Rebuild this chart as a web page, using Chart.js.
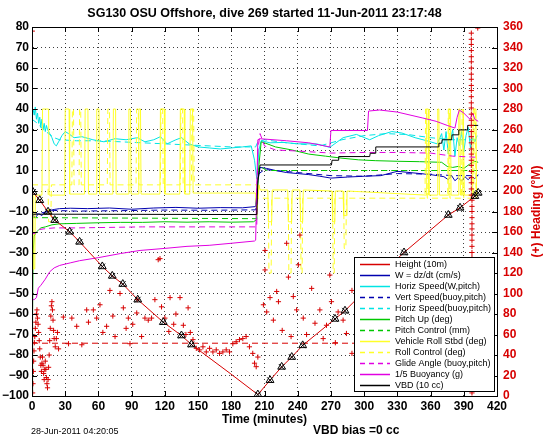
<!DOCTYPE html>
<html>
<head>
<meta charset="utf-8">
<script src="https://cdn.jsdelivr.net/npm/chart.js@4.4.1/dist/chart.umd.min.js"></script>
<style>
  html, body { margin: 0; padding: 0; background: #fff; }
  #wrap { width: 546px; height: 442px; }
</style>
</head>
<body>
<div id="wrap"><canvas id="c" width="546" height="442"></canvas></div>
<script>
// ---- data (time in minutes) ----
const xTicks = [0, 420, 30];      // min, max, step
const yLeftTicks = [-100, 80, 10];
const yRightTicks = [0, 360, 20];

const heightT = [0, 7, 14.5, 20.5, 34, 43, 63.5, 72.5, 82, 95.5, 118.6, 135, 144, 179, 204, 215, 225.5, 234.6, 244.5, 273.7, 282.7, 326, 336, 376, 386.6, 400, 403];
const heightV = [0, -4.5, -10.1, -14.2, -19.9, -24.8, -36.8, -41.4, -45.4, -53, -64, -70.5, -74.9, -89, -99.3, -92.3, -85.8, -81, -75.3, -62.4, -58.4, -35, -30, -11.7, -8.2, -2.5, -0.9];

const markT = [0.9, 7, 14.5, 20.5, 34, 43, 63.5, 72.5, 82, 95.5, 118.6, 135, 144, 204, 215, 225.5, 234.6, 244.5, 273.7, 282.7, 326, 336, 376, 386.6, 400, 403];
const markV = [-0.5, -4.5, -10.1, -14.2, -19.9, -24.8, -36.8, -41.4, -45.4, -53, -64, -70.5, -74.9, -99.3, -92.3, -85.8, -81, -75.3, -62.4, -58.4, -35, -30, -11.7, -8.2, -2.5, -0.9];

const wT = [0, 1, 3, 6, 9, 12, 16, 20, 25, 35, 50, 70, 90, 110, 130, 150, 170, 190, 202, 203.5, 206, 212, 220, 230, 240, 250, 260, 270, 285, 300, 315, 330, 345, 360, 372, 376, 379, 382, 385, 388, 391, 394, 397, 400, 403];
const wV = [-14, -12, -13, -11, -12, -10, -9.5, -9, -8.6, -8.4, -8.6, -8.3, -8.9, -8.3, -8.0, -8.4, -8.1, -8.2, -7.6, 3, 11.5, 11, 10, 9, 8.5, 8, 7.2, 6.3, 6.8, 7.2, 7.5, 9.6, 8.8, 8.0, 7, 5.5, 7.5, 5, 6.5, 4.8, 7, 5.5, 7.2, 6, 8];

const horizT = [0, 1, 2, 3, 4, 5, 6, 7, 8, 9, 10, 11, 12, 13, 14, 16, 18, 20, 22, 24, 27, 30, 33, 38, 45, 55, 65, 75, 85, 95, 102, 110, 116, 122, 130, 135, 142, 150, 160, 170, 180, 190, 198, 201, 203, 205, 207, 215, 227, 240, 257, 269, 281, 293, 305, 313, 325, 334, 346, 358, 366, 370, 372, 374, 376, 378, 380, 382, 384, 386, 388, 390, 392, 394, 396, 398, 400, 402];
const horizV = [38, 40, 37, 41, 35, 38, 33, 36, 31, 35, 30, 33, 29, 32, 30, 28, 26, 23, 22, 24, 27, 29, 28, 26, 26.5, 25, 24, 25.5, 25, 26, 24, 25, 26.5, 23, 25, 26, 23, 21.5, 21, 20.5, 21, 21.5, 22, 15, 6, 20, 24.5, 23.5, 23.7, 23, 23, 21.3, 26, 27.6, 25, 27, 29, 28.3, 26, 24.3, 23, 28, 20, 29, 18, 25, 30, 17, 26, 22, 29, 19, 27, 31, 21, 26, 24, 27];

const vertT = [0, 5, 10, 20, 40, 80, 120, 160, 202, 204, 210, 240, 270, 300, 330, 360, 380, 403];
const vertV = [-12, -11, -10.5, -9.5, -9.8, -9.6, -9.3, -9.4, -9.2, 8, 10.5, 9, 7.5, 7.2, 8.5, 8.2, 7.5, 7.5];

const horizBT = [0, 5, 10, 20, 25, 40, 60, 80, 100, 120, 140, 160, 180, 202, 204, 210, 230, 260, 280, 300, 320, 340, 360, 380, 403];
const horizBV = [35, 33, 30, 26, 25, 24.5, 24.5, 24, 23.5, 23, 22.5, 22, 21.5, 21.5, 24, 25, 23.5, 22, 25, 27, 28, 27.5, 26, 25, 25];

const pitchT = [0, 0.5, 1, 2, 4, 6, 8, 12, 18, 25, 40, 60, 80, 100, 120, 140, 160, 180, 200, 203, 204.5, 207, 210, 220, 235, 250, 265, 280, 295, 310, 330, 350, 370, 375, 380, 385, 390, 395, 400, 403];
const pitchV = [-99, -60, -30, -22, -20, -19, -18, -17.5, -16.5, -16, -15.8, -15.5, -15.3, -15.3, -15, -15.2, -15, -15.2, -15, -14, 10, 24, 23.5, 21.5, 20, 18, 17, 16, 15.2, 14.8, 14.5, 14.3, 14, 12, 11.5, 12, 11, 13, 14.5, 14];

const pitchCtlT = [0, 203, 204, 206, 212, 403];
const pitchCtlV = [-13, -13.5, 10, 12, 10, 10];

const rollT = [0, 0.8, 2.5, 3, 9, 9.5, 15, 15.5, 29.5, 30, 33.5, 34, 47.5, 48, 50.5, 51, 58, 58.5, 60.5, 61, 73, 73.5, 75.5, 76, 87, 87.5, 89, 89.5, 96, 96.5, 98, 98.5, 115.5, 116, 119.5, 120, 133.5, 134, 137.5, 138, 142.5, 143, 145, 145.5, 202, 203, 205, 206, 213, 213.5, 216.5, 217, 231, 231.5, 234.5, 235, 242, 242.5, 244.5, 245, 271, 271.5, 273.5, 274, 281, 281.5, 284, 284.5, 356, 356.5, 358, 358.5, 366, 366.5, 367.5, 368, 376, 376.5, 378, 378.5, 385, 385.5, 386.5, 387, 389, 389.5, 390, 390.5, 398, 398.5, 401, 401.5, 403];
const rollV = [-2, -38, -38, -2, -2, 40, 40, -2, -2, 40, 40, -1.5, -1.5, 40, 40, -1.5, -1.5, 40, 40, -1.5, -1.5, 40, 40, -1.5, -1.5, 40, 40, -1.5, -1.5, 40, 40, -1.5, -1.5, 40, 40, -1.5, -1.5, 40, 40, -1.5, -1.5, 40, 40, -1, -1, -12, 3, 0.5, 0.5, -15, -15, 0.5, 0.5, -15, -15, 0.5, 0.5, -15, -15, 0.5, 0, -15, -15, 0, 0, -12, -12, 0, -2, 40, 40, -2, -2, 40, 40, -2, -2, 40, 40, -2, -2, 40, 40, -2, -2, 40, 40, -2, -2, 40, 40, -2, -2];

const rollCtlT = [0, 14.5, 15, 17, 17.5, 36, 36.5, 37.5, 38, 42.5, 43, 44, 44.5, 68, 68.5, 70, 70.5, 94, 94.5, 96, 96.5, 116, 116.5, 118, 118.5, 134, 134.5, 136, 136.5, 144, 144.5, 146, 146.5, 203, 204, 213.5, 214, 216, 216.5, 231.5, 232, 234, 234.5, 242.5, 243, 244, 244.5, 271.5, 272, 273, 273.5, 281.5, 282, 283.5, 284, 355, 355.5, 356.5, 357, 375.5, 376, 377, 377.5, 388, 388.5, 389.5, 390, 399, 399.5, 400.5, 401, 403];
const rollCtlV = [3, 3, -15, -15, 3, 3, 40, 40, 3, 3, 40, 40, 3, 3, 40, 40, 3, 3, 40, 40, 3, 3, 40, 40, 3, 3, 40, 40, 3, 3, 40, 40, 3, 3, -3.5, -3.5, -40, -40, -3.5, -3.5, -40, -40, -3.5, -3.5, -40, -40, -3.5, -3.5, -40, -40, -3.5, -3.5, -28, -28, -3.5, -3.5, 40, 40, -3.5, -3.5, 40, 40, -3.5, -3.5, 40, 40, -3.5, -3.5, 40, 40, -3.5, -3.5];

const glideT = [0, 2, 5, 10, 20, 40, 100, 160, 203, 204, 206, 210, 220, 240, 270, 300, 330, 360, 380, 400, 403];
const glideV = [-20, -21, -19, -18.5, -18, -18, -17.5, -17.5, -17.5, 20, 28, 22, 20, 19.5, 18.5, 18.8, 18.8, 18.5, 17, 16.5, 17];

const buoyT = [0, 2, 4, 5.7, 8, 12, 16, 20, 25, 35, 43, 60, 80, 97.6, 120, 140, 160, 180, 201, 202, 204, 206, 230, 250, 269, 270, 290, 303, 304, 314, 330, 353, 365, 375, 382, 384, 386, 390, 395.6, 398, 400, 403];
const buoyV = [-53, -53, -52, -47.4, -46, -43, -39.4, -37.5, -36.3, -35, -34, -32.5, -30.5, -29, -28, -27, -26.5, -25.5, -24.4, -24, 25, 25.5, 24.5, 23.5, 21.5, 29.5, 29.5, 29.5, 39, 39.5, 38.5, 35.6, 34, 32, 30.7, 36, 39.5, 38, 35, 38, 35, 34];

const vbdT = [0, 0.5, 203, 204, 206, 270.5, 271, 276.5, 277, 305, 305.5, 310, 310.5, 367, 367.5, 370, 370.5, 379, 379.5, 385, 385.5, 393, 393.5, 403];
const vbdV = [-99, -11.3, -11.5, 5, 12.7, 12.7, 15, 15, 16.8, 16.8, 18.4, 18.4, 21.5, 21.5, 23.3, 23.3, 25, 25, 27.4, 27.4, 29.8, 29.8, 32, 32];

// heading (right axis, degrees)
const headT = [0.3, 0.6, 0.9, 1.2, 1.5, 1.8, 2.1, 2.5, 3, 3.5, 4, 4.5, 5, 5.5, 6, 6.5, 7, 7.5, 8, 8.5, 9, 9.5, 10, 10.5, 11, 11.5, 12, 12.5, 13, 13.5, 14, 14.5, 15, 15.5, 16, 16.5, 17, 17.5, 18, 18.5, 19, 19.5, 20, 21, 22, 23, 24,
  28.3, 33, 36, 40.4, 45, 49.4, 51, 55.4, 58.4, 61.4, 64, 67.4, 70.4, 73, 75, 79.5, 82.5, 85, 87, 88.5, 91, 94.6, 95, 99, 102, 105, 108, 111, 114, 115.6, 117, 120, 123.6, 124.7, 128, 130, 133.7, 136.7, 139, 141, 143, 145.4, 148.4, 151.4, 154.4, 157.4, 160.4, 163.4, 166.4, 169.4, 172.4, 175.4, 178.4, 181.4, 184.4, 187.4, 190.4, 193.4, 196.4, 199.4, 201, 202.5, 204,
  209, 210.5, 210.5, 212, 215, 218, 221, 222.6, 226, 230, 231.6, 234, 236, 239, 240.6, 242, 245, 248, 252.6, 255.6, 260, 263, 266, 269, 270.5, 274, 276.5, 281, 284, 289, 289, 294, 298, 303, 308, 314, 320, 326, 332, 340, 346, 352, 360, 366, 372, 380, 388,
  402.6, 396.8, 396.8, 396.8, 396.8, 396.8, 396.8, 396.8, 396.8, 396.8, 396.8, 396.8, 396.8, 396.8, 396.8, 396.8, 396.8, 396.8, 396.8, 396.8, 396.8, 396.8, 396.8, 396.8, 396.8, 396.8, 396.8, 396.8, 396.8, 396.8, 397.4, 397.4, 397.4, 397.4, 397.4, 397.4, 397.4, 397.4, 397.4, 397.4, 397.4, 397.4, 397.4, 397.4, 397.4, 397.4, 397.4, 397.4, 397.4, 397.4, 397.4, 397.4, 397.4, 397.4, 397.4, 397.4, 397.4, 397.4, 397.4, 397.4, 397.4, 397.4, 397.4, 397.4];
const headV = [356, 3, 12, 24, 34, 44, 52, 58, 66, 72, 80, 84, 76, 70, 62, 54, 46, 38, 30, 24, 32, 38, 30, 22, 16, 26, 34, 26, 18, 12, 8, 16, 28, 40, 54, 66, 78, 88, 92, 84, 74, 64, 56, 48, 56, 62, 46,
  77, 51, 76, 68, 50, 84, 72, 84, 76, 89, 62, 68, 103, 78, 58, 100, 86, 66, 76, 51, 70, 81, 94, 58, 76, 74, 76, 94, 133, 134, 87, 76, 63, 96, 70, 80, 96, 69, 60, 86, 62, 55, 46.5, 45, 48, 43, 46.5, 43, 45, 41.6, 43, 45, 43, 51, 53, 55, 56, 58, 48, 41.6, 32, 28.6, 38,
  89, 142, 123, 82, 96, 74, 102, 92, 64, 149, 116, 58, 97, 84, 128, 157, 76, 60, 105, 71, 84, 56, 69, 118, 92, 52, 82, 74, 61, 103, 41.6, 88, 66, 110, 76, 95, 58, 122, 84, 70, 100, 62, 90, 118, 78, 104, 66,
  359, 354, 348, 343, 337, 331, 326, 320, 314, 309, 303, 298, 292, 286, 281, 275, 269, 264, 258, 253, 247, 241, 236, 230, 225, 219, 213, 208, 202, 196, 191, 185, 180, 174, 168, 163, 157, 152, 146, 140, 135, 129, 124, 118, 112, 107, 101, 96, 90, 84, 79, 73, 68, 62, 56, 51, 45, 40, 34, 28, 23, 17, 11, 3];

const headRefT = [0, 403];
const headRefV = [51.5, 51.5];

const legendLabels = ['Height (10m)', 'W = dz/dt (cm/s)', 'Horiz Speed(W,pitch)', 'Vert Speed(buoy,pitch)',
  'Horiz Speed(buoy,pitch)', 'Pitch Up (deg)', 'Pitch Control (mm)', 'Vehicle Roll Stbd (deg)',
  'Roll Control (deg)', 'Glide Angle (buoy,pitch)', '1/5 Buoyancy (g)', 'VBD (10 cc)'];

const FONT = "'Liberation Sans', Arial, Helvetica, sans-serif";
const RED = 'rgb(215,0,0)';
const BLUE = 'rgb(0,0,175)';
const CYAN = 'rgb(0,228,228)';
const GREEN = 'rgb(0,200,0)';
const YELLOW = 'rgb(255,255,40)';
const MAGENTA = 'rgb(225,0,225)';
const DASH = [6, 4];

function pts(t, v) {
  return t.map((x, i) => ({x: x, y: v[i]}));
}

function series(label, t, v, color, dash, order) {
  return {
    label: label, data: pts(t, v), borderColor: color, backgroundColor: color,
    borderWidth: 1, borderDash: dash || [], pointRadius: 0, yAxisID: 'y', order: order
  };
}

const datasets = [
  {label: 'marks', data: pts(markT, markV), showLine: false, pointStyle: 'triangle', pointRadius: 4.5,
   borderColor: '#000', backgroundColor: 'rgba(0,0,0,0)', borderWidth: 1, yAxisID: 'y', order: 0},
  {label: 'marksX', data: pts(markT, markV), showLine: false, pointStyle: 'crossRot', pointRadius: 4,
   borderColor: '#000', borderWidth: 1, yAxisID: 'y', order: 0},
  series('Height (10m)', heightT, heightV, RED, null, 1),
  {label: 'heading', data: pts(headT, headV), showLine: false, pointStyle: 'cross', pointRadius: 2.6,
   borderColor: RED, borderWidth: 1, yAxisID: 'y2', order: 2},
  {label: 'headingRef', data: pts(headRefT, headRefV), borderColor: RED, borderWidth: 1,
   borderDash: DASH, pointRadius: 0, yAxisID: 'y2', order: 3},
  series('W = dz/dt (cm/s)', wT, wV, BLUE, null, 14),
  series('Horiz Speed(W,pitch)', horizT, horizV, CYAN, null, 13),
  series('Vert Speed(buoy,pitch)', vertT, vertV, BLUE, DASH, 12),
  series('Horiz Speed(buoy,pitch)', horizBT, horizBV, CYAN, DASH, 11),
  series('Pitch Up (deg)', pitchT, pitchV, GREEN, null, 10),
  series('Pitch Control (mm)', pitchCtlT, pitchCtlV, GREEN, DASH, 9),
  series('Vehicle Roll Stbd (deg)', rollT, rollV, YELLOW, null, 8),
  series('Roll Control (deg)', rollCtlT, rollCtlV, YELLOW, DASH, 7),
  series('Glide Angle (buoy,pitch)', glideT, glideV, MAGENTA, DASH, 6),
  series('1/5 Buoyancy (g)', buoyT, buoyV, MAGENTA, null, 5),
  series('VBD (10 cc)', vbdT, vbdV, '#000', null, 4)
];

const minusFmt = v => (v < 0 ? '\u2212' + Math.abs(v) : String(v));

// frame, inward ticks, titles, legend box, footer texts
const decor = {
  id: 'decor',
  afterDraw(chart) {
    const ctx = chart.ctx, a = chart.chartArea;
    const xs = chart.scales.x, yl = chart.scales.y, yr = chart.scales.y2;
    ctx.save();
    ctx.strokeStyle = '#000';
    ctx.lineWidth = 1;
    ctx.setLineDash([]);
    ctx.strokeRect(Math.round(a.left) + 0.5, Math.round(a.top) + 0.5, Math.round(a.right - a.left), Math.round(a.bottom - a.top));
    ctx.beginPath();
    xs.ticks.forEach(t => {
      const p = Math.round(xs.getPixelForValue(t.value)) + 0.5;
      ctx.moveTo(p, a.bottom); ctx.lineTo(p, a.bottom - 5);
      ctx.moveTo(p, a.top); ctx.lineTo(p, a.top + 5);
    });
    yl.ticks.forEach(t => {
      const p = Math.round(yl.getPixelForValue(t.value)) + 0.5;
      ctx.moveTo(a.left, p); ctx.lineTo(a.left + 5, p);
    });
    yr.ticks.forEach(t => {
      const p = Math.round(yr.getPixelForValue(t.value)) + 0.5;
      ctx.moveTo(a.right, p); ctx.lineTo(a.right - 5, p);
    });
    ctx.stroke();

    // title
    ctx.fillStyle = '#000';
    ctx.textAlign = 'center';
    ctx.textBaseline = 'middle';
    ctx.font = 'bold 12.5px ' + FONT;
    ctx.fillText('SG130 OSU Offshore, dive 269 started 11-Jun-2011 23:17:48', (a.left + a.right) / 2, 14);

    // right axis title
    ctx.save();
    ctx.translate(537, (a.top + a.bottom) / 2);
    ctx.rotate(-Math.PI / 2);
    ctx.fillStyle = RED;
    ctx.font = 'bold 12px ' + FONT;
    ctx.fillText('(+) Heading (\u00b0M)', 0, 0);
    ctx.restore();

    // footer
    ctx.textAlign = 'left';
    ctx.font = '9px ' + FONT;
    ctx.fillText('28-Jun-2011 04:20:05', 31, 432);
    ctx.font = 'bold 12px ' + FONT;
    ctx.fillText('VBD bias =0 cc', 313, 431);

    // legend
    const bx = a.right - 143, by = a.bottom - 139, bw = 140, bh = 134;
    ctx.fillStyle = '#fff';
    ctx.fillRect(bx, by, bw, bh);
    ctx.strokeStyle = '#000';
    ctx.strokeRect(Math.round(bx) + 0.5, Math.round(by) + 0.5, bw, bh);
    ctx.font = '9px ' + FONT;
    ctx.textBaseline = 'middle';
    legendLabels.forEach((lab, i) => {
      const ds = chart.data.datasets.find(d => d.label === lab);
      const y = Math.round(by + 7 + i * 11) + 0.5;
      ctx.strokeStyle = ds.borderColor;
      ctx.lineWidth = 1.5;
      ctx.setLineDash(ds.borderDash && ds.borderDash.length ? [5, 4] : []);
      ctx.beginPath();
      ctx.moveTo(bx + 6, y);
      ctx.lineTo(bx + 36, y);
      ctx.stroke();
      ctx.setLineDash([]);
      ctx.fillStyle = '#000';
      ctx.fillText(lab, bx + 41, y);
    });
    ctx.restore();
  }
};

new Chart(document.getElementById('c'), {
  type: 'line',
  data: {datasets: datasets},
  options: {
    responsive: false,
    animation: false,
    devicePixelRatio: 1,
    layout: {padding: {top: 27, left: 0, right: 0, bottom: 0}},
    elements: {line: {tension: 0}},
    plugins: {legend: {display: false}, tooltip: {enabled: false}, title: {display: false}},
    scales: {
      x: {
        type: 'linear', min: xTicks[0], max: xTicks[1],
        ticks: {stepSize: xTicks[2], autoSkip: false, maxRotation: 0, padding: 3, color: '#000',
          font: {family: FONT, size: 12, weight: 'bold'}},
        grid: {color: 'rgba(0,0,0,0.75)', lineWidth: 1, drawTicks: false},
        border: {display: true, color: '#000', dash: [1, 3]},
        title: {display: true, text: 'Time (minutes)', color: '#000', padding: {top: 0, bottom: 15},
          font: {family: FONT, size: 12, weight: 'bold'}},
        afterFit: s => { s.height = 46; }
      },
      y: {
        position: 'left', min: yLeftTicks[0], max: yLeftTicks[1],
        ticks: {stepSize: yLeftTicks[2], autoSkip: false, padding: 3, color: '#000', callback: minusFmt,
          font: {family: FONT, size: 12, weight: 'bold'}},
        grid: {color: 'rgba(0,0,0,0.75)', lineWidth: 1, drawTicks: false},
        border: {display: true, color: '#000', dash: [1, 3]},
        afterFit: s => { s.width = 32; }
      },
      y2: {
        position: 'right', min: yRightTicks[0], max: yRightTicks[1],
        ticks: {stepSize: yRightTicks[2], autoSkip: false, padding: 6, color: RED,
          font: {family: FONT, size: 12, weight: 'bold'}},
        grid: {display: false, drawTicks: false},
        border: {display: true, color: '#000'},
        afterFit: s => { s.width = 49; }
      }
    }
  },
  plugins: [decor]
});
</script>
</body>
</html>
